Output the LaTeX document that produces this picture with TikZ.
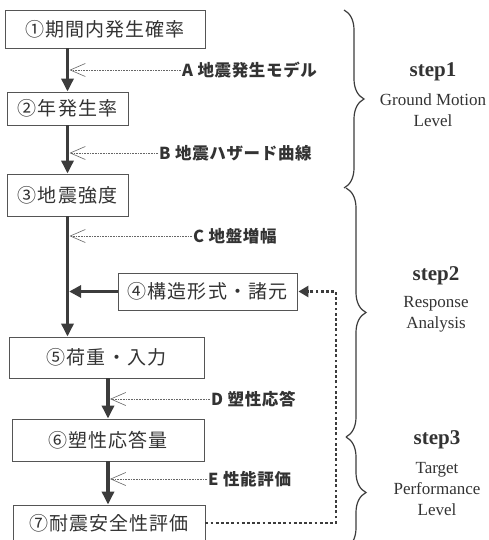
\documentclass[tikz,border=0pt]{standalone}
\usepackage{fontspec}
\setmainfont{Liberation Serif}
\newfontfamily\jp{Noto Sans CJK JP}[LetterSpace=6]
\newfontfamily\jpb{Noto Sans CJK JP}[LetterSpace=4]
\usetikzlibrary{arrows.meta,decorations.pathreplacing}
\definecolor{ink}{HTML}{333333}
\definecolor{arr}{HTML}{3C3C3C}
\definecolor{boxc}{HTML}{555555}
\tikzset{
  box/.style={draw=boxc, line width=0.9pt, rectangle, inner sep=0pt, text=ink,
    font=\jp\fontsize{19}{19}\selectfont},
  mainarr/.style={draw=arr, line width=3.4pt, -{Triangle[length=13pt,width=12pt]}},
  sidearr/.style={draw=arr, line width=3.4pt, -{Triangle[length=12pt,width=12pt]}},
  lbl/.style={anchor=west, inner sep=0pt, text=ink, font=\jpb\bfseries\fontsize{16.5}{16.5}\selectfont},
  subarr/.style={draw=gray!80!black, line width=0.6pt, dash pattern=on 0.8pt off 0.8pt,
    -{Straight Barb[length=15pt,width=13pt,line width=0.6pt]}, shorten >=2pt},
  fb/.style={draw=arr, line width=2.8pt, dash pattern=on 2.8pt off 2.4pt,
    -{Triangle[length=10pt,width=11pt]}},
  brc/.style={draw=arr, line width=1.2pt, decorate, decoration={brace, amplitude=20pt}},
  stepttl/.style={font=\bfseries\fontsize{21}{21}\selectfont, text=ink, inner sep=0pt},
  stepsub/.style={font=\fontsize{17}{21}\selectfont, text=ink, align=center, inner sep=0pt}
}
\begin{document}
\begin{tikzpicture}[x=1pt,y=-1pt]
\useasboundingbox[fill=white] (0,0) rectangle (489,540);
% boxes
\node[box, minimum width=200pt, minimum height=38pt] (b1) at (105,29) {①期間内発生確率};
\node[box, minimum width=121pt, minimum height=33pt] (b2) at (67.5,108.5) {②年発生率};
\node[box, minimum width=121pt, minimum height=42pt] (b3) at (67.5,195) {③地震強度};
\node[box, minimum width=179pt, minimum height=37pt] (b4) at (207.5,291.5) {④構造形式・諸元};
\node[box, minimum width=195pt, minimum height=41pt] (b5) at (106.5,357.5) {⑤荷重・入力};
\node[box, minimum width=192pt, minimum height=42pt] (b6) at (108,440) {⑥塑性応答量};
\node[box, minimum width=192pt, minimum height=36pt] (b7) at (109,523) {⑦耐震安全性評価};
% main arrows
\draw[mainarr] (b1.south -| b2.north) -- (b2.north);
\draw[mainarr] (b2.south) -- (b3.north);
\draw[mainarr] (b3.south) -- (b3.south |- b5.north);
\draw[sidearr, shorten >=1.6pt] (b4.west) -- (b3.south |- b4.west);
\draw[mainarr] (b6.north |- b5.south) -- (b6.north);
\draw[mainarr] (b6.south) -- (b6.south |- b7.north);
% side labels
\node[lbl] (la) at (182,70) {A 地震発生モデル};
\node[lbl] (lb) at (159,153) {B 地震ハザード曲線};
\node[lbl] (lc) at (193,236) {C 地盤増幅};
\node[lbl] (ld) at (211,399) {D 塑性応答};
\node[lbl] (le) at (208,479) {E 性能評価};
\draw[subarr] ([xshift=-1pt]la.west) -- (la.west -| b2.north);
\draw[subarr] ([xshift=-1pt]lb.west) -- (lb.west -| b2.north);
\draw[subarr] ([xshift=-1pt]lc.west) -- (lc.west -| b3.south);
\draw[subarr] ([xshift=-1pt]ld.west) -- (ld.west -| b6.north);
\draw[subarr] ([xshift=-1pt]le.west) -- (le.west -| b6.south);
% feedback
\coordinate (fx) at (336,0);
\draw[fb] (b7.east) -- (b7.east -| fx) -- (fx |- b4.east) -- ([xshift=1pt]b4.east);
% braces
\coordinate (br1a) at (344,10);
\coordinate (br1b) at (344,188);
\coordinate (br2a) at (346,188);
\coordinate (br2b) at (346,437);
\coordinate (br3a) at (346,437);
\coordinate (br3b) at (346,548);
\draw[brc] (br1a) -- (br1b);
\draw[brc] (br2a) -- (br2b);
\draw[brc] (br3a) -- (br3b);
% step texts
\node[stepttl] (s1) at (433,72) {step1};
\node[stepsub] (s1t) at (433,110) {Ground Motion\\Level};
\node[stepttl] (s2) at (436,276) {step2};
\node[stepsub] (s2t) at (436,314) {Response\\Analysis};
\node[stepttl] (s3) at (437,440) {step3};
\node[stepsub] (s3t) at (437,489) {Target\\Performance\\Level};
\end{tikzpicture}
\end{document}
